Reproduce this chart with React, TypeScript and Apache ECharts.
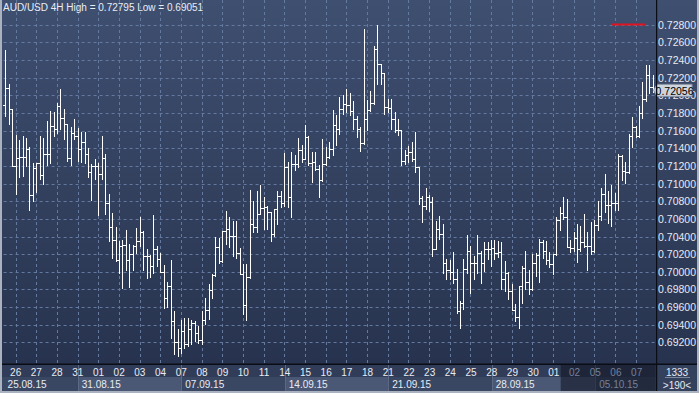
import React, { useEffect, useRef } from "react";
import * as echarts from "echarts";

const symbolName = "AUD/USD 4H";

const opens = [
  0.71895, 0.72088, 0.71842, 0.71198, 0.71285, 0.71304, 0.71304, 0.71387, 0.70872, 0.71179,
  0.71228, 0.71096, 0.7133, 0.7133, 0.71653, 0.71615, 0.71884, 0.71747, 0.71679, 0.71285,
  0.71577, 0.71539, 0.71387, 0.71475, 0.7133, 0.71133, 0.71198, 0.71198, 0.71111, 0.71285,
  0.70781, 0.70504, 0.70364, 0.70137, 0.70288, 0.703, 0.70129, 0.70205, 0.70288, 0.70345,
  0.70451, 0.70182, 0.70175, 0.70061, 0.70258, 0.70148, 0.69996, 0.69701, 0.69834, 0.69442,
  0.69203, 0.69139, 0.69329, 0.69177, 0.69347, 0.69423, 0.6931, 0.69222, 0.6945, 0.69564,
  0.69791, 0.69961, 0.70276, 0.70124, 0.70466, 0.70484, 0.70409, 0.70409, 0.70212, 0.6998,
  0.6962, 0.69942, 0.70541, 0.70503, 0.70655, 0.70719, 0.70731, 0.70674, 0.70428, 0.70712,
  0.70856, 0.70776, 0.71186, 0.70845, 0.71224, 0.71224, 0.71383, 0.7128, 0.71527, 0.71231,
  0.71242, 0.71167, 0.71045, 0.71224, 0.71299, 0.71394, 0.71659, 0.71621, 0.71849, 0.71906,
  0.71887, 0.71822, 0.71728, 0.71614, 0.71462, 0.71735, 0.71837, 0.71917, 0.72523, 0.7235,
  0.72254, 0.71868, 0.71856, 0.71735, 0.71602, 0.71602, 0.71254, 0.71318, 0.71356, 0.71273,
  0.71186, 0.70833, 0.7075, 0.70844, 0.70788, 0.70257, 0.70484, 0.70428, 0.70105, 0.70022,
  0.69999, 0.69924, 0.69556, 0.69651, 0.7003, 0.70238, 0.70105, 0.70105, 0.70212, 0.70105,
  0.70257, 0.70257, 0.70271, 0.70215, 0.70222, 0.69919, 0.69983, 0.69786, 0.6957, 0.69483,
  0.69836, 0.7004, 0.69881, 0.69805, 0.70105, 0.70196, 0.70343, 0.70241, 0.70135, 0.70089,
  0.70203, 0.70582, 0.70669, 0.7062, 0.70279, 0.70268, 0.70385, 0.7026, 0.70336, 0.70287,
  0.70287, 0.70241, 0.70525, 0.70628, 0.70885, 0.70753, 0.70753, 0.70779, 0.70779, 0.7131,
  0.71143, 0.71128, 0.71537, 0.71636, 0.71541, 0.71795, 0.71954, 0.72231, 0.72091,
];

const highs = [
  0.72517, 0.72126, 0.7185, 0.71547, 0.71493, 0.71535, 0.71512, 0.71414, 0.71228, 0.71228,
  0.71535, 0.71512, 0.71706, 0.71819, 0.71812, 0.7191, 0.7207, 0.71842, 0.71679, 0.71645,
  0.71728, 0.71626, 0.71588, 0.71588, 0.71406, 0.71217, 0.71274, 0.71228, 0.71543, 0.7133,
  0.70887, 0.70663, 0.70504, 0.70345, 0.70356, 0.70478, 0.70311, 0.703, 0.70497, 0.70622,
  0.70466, 0.70262, 0.70193, 0.70641, 0.70288, 0.70212, 0.70076, 0.69887, 0.70136, 0.69556,
  0.69347, 0.6945, 0.69473, 0.6948, 0.6945, 0.69442, 0.69385, 0.69556, 0.69708, 0.69867,
  0.69973, 0.7039, 0.70382, 0.70466, 0.70693, 0.70625, 0.70579, 0.70579, 0.70268, 0.70094,
  0.70087, 0.70932, 0.70807, 0.7092, 0.70985, 0.70845, 0.70745, 0.70674, 0.70712, 0.70913,
  0.7092, 0.71345, 0.71242, 0.71356, 0.71318, 0.71515, 0.71432, 0.71659, 0.7154, 0.71356,
  0.71356, 0.71205, 0.71508, 0.71413, 0.7147, 0.7183, 0.71773, 0.71981, 0.72, 0.72069,
  0.72031, 0.71932, 0.71765, 0.7164, 0.72751, 0.71944, 0.72046, 0.72561, 0.72795, 0.7236,
  0.72254, 0.71963, 0.71963, 0.71811, 0.71728, 0.7161, 0.71375, 0.71424, 0.7147, 0.71584,
  0.71186, 0.70863, 0.70951, 0.70871, 0.70844, 0.70579, 0.70636, 0.70541, 0.70143, 0.70132,
  0.70219, 0.7003, 0.6967, 0.70143, 0.70416, 0.70295, 0.70181, 0.70416, 0.70238, 0.70333,
  0.70333, 0.70355, 0.70355, 0.70347, 0.70336, 0.70127, 0.69995, 0.69862, 0.69635, 0.69843,
  0.7007, 0.70241, 0.70021, 0.70203, 0.70211, 0.70374, 0.70355, 0.70347, 0.70222, 0.70203,
  0.7062, 0.70734, 0.70847, 0.70821, 0.70362, 0.70449, 0.70544, 0.70514, 0.70658, 0.70449,
  0.70563, 0.70582, 0.70798, 0.70954, 0.71106, 0.70912, 0.7098, 0.70893, 0.7134, 0.7132,
  0.71245, 0.7156, 0.71757, 0.71651, 0.71878, 0.72155, 0.72344, 0.72344, 0.72231,
];

const lows = [
  0.71766, 0.71679, 0.71198, 0.70883, 0.71073, 0.71084, 0.71198, 0.70698, 0.708, 0.70902,
  0.71046, 0.70993, 0.71205, 0.71228, 0.71539, 0.71577, 0.71615, 0.71501, 0.71255, 0.71205,
  0.71501, 0.71255, 0.71247, 0.71228, 0.71077, 0.70819, 0.71046, 0.70641, 0.71046, 0.70656,
  0.70353, 0.70156, 0.70118, 0.69985, 0.69822, 0.70023, 0.69833, 0.70015, 0.70212, 0.70288,
  0.70015, 0.69928, 0.6994, 0.69985, 0.70061, 0.69996, 0.69587, 0.69606, 0.69253, 0.69071,
  0.69051, 0.69082, 0.69139, 0.69158, 0.69177, 0.69215, 0.69196, 0.69177, 0.69404, 0.69461,
  0.69708, 0.69954, 0.70105, 0.7011, 0.70314, 0.70276, 0.70181, 0.70162, 0.69973, 0.69518,
  0.6945, 0.69935, 0.70447, 0.70447, 0.70655, 0.70484, 0.70484, 0.70352, 0.70409, 0.70541,
  0.70731, 0.7075, 0.70738, 0.70617, 0.71148, 0.71186, 0.71242, 0.71273, 0.71205, 0.71015,
  0.71148, 0.70845, 0.71034, 0.71215, 0.71292, 0.71318, 0.71432, 0.71565, 0.71792, 0.71811,
  0.71773, 0.71621, 0.71527, 0.71368, 0.71451, 0.71602, 0.7182, 0.719, 0.72133, 0.72133,
  0.71792, 0.71811, 0.71621, 0.71584, 0.71546, 0.71212, 0.71223, 0.71242, 0.71261, 0.71129,
  0.70769, 0.7056, 0.70712, 0.70693, 0.70181, 0.70257, 0.70371, 0.69992, 0.69916, 0.69916,
  0.69878, 0.69537, 0.69366, 0.69582, 0.69992, 0.69764, 0.69916, 0.69992, 0.69878, 0.70011,
  0.70143, 0.7007, 0.70146, 0.70165, 0.69805, 0.69786, 0.69691, 0.69566, 0.69445, 0.69362,
  0.69642, 0.69805, 0.69748, 0.69794, 0.69957, 0.69881, 0.70158, 0.70089, 0.70052, 0.69976,
  0.70196, 0.70468, 0.70601, 0.70279, 0.70222, 0.70241, 0.70108, 0.70241, 0.70279, 0.70021,
  0.70203, 0.7023, 0.70468, 0.70582, 0.70677, 0.70552, 0.70514, 0.70703, 0.70703, 0.71037,
  0.71007, 0.7112, 0.71416, 0.71522, 0.7153, 0.71738, 0.7194, 0.72022, 0.72041,
];

const closes = [
  0.72088, 0.71842, 0.71198, 0.71285, 0.71304, 0.71304, 0.71387, 0.70872, 0.71179, 0.71228,
  0.71096, 0.7133, 0.7133, 0.71653, 0.71615, 0.71884, 0.71747, 0.71679, 0.71285, 0.71577,
  0.71539, 0.71387, 0.71475, 0.7133, 0.71133, 0.71198, 0.71198, 0.71111, 0.71285, 0.70781,
  0.70504, 0.70364, 0.70137, 0.70288, 0.703, 0.70129, 0.70205, 0.70288, 0.70345, 0.70451,
  0.70182, 0.70175, 0.70061, 0.70258, 0.70148, 0.69996, 0.69701, 0.69834, 0.69442, 0.69203,
  0.69139, 0.69329, 0.69177, 0.69347, 0.69423, 0.6931, 0.69222, 0.6945, 0.69564, 0.69791,
  0.69961, 0.70276, 0.70124, 0.70466, 0.70484, 0.70409, 0.70409, 0.70212, 0.6998, 0.6962,
  0.69942, 0.70541, 0.70503, 0.70655, 0.70719, 0.70731, 0.70674, 0.70428, 0.70712, 0.70856,
  0.70776, 0.71186, 0.70845, 0.71224, 0.71224, 0.71383, 0.7128, 0.71527, 0.71231, 0.71242,
  0.71167, 0.71045, 0.71224, 0.71299, 0.71394, 0.71659, 0.71621, 0.71849, 0.71906, 0.71887,
  0.71822, 0.71728, 0.71614, 0.71462, 0.71735, 0.71837, 0.71917, 0.72523, 0.7235, 0.72254,
  0.71868, 0.71856, 0.71735, 0.71602, 0.71602, 0.71254, 0.71318, 0.71356, 0.71273, 0.71186,
  0.70833, 0.7075, 0.70844, 0.70788, 0.70257, 0.70484, 0.70428, 0.70105, 0.70022, 0.69999,
  0.69924, 0.69556, 0.69651, 0.7003, 0.70238, 0.70105, 0.70105, 0.70212, 0.70105, 0.70257,
  0.70257, 0.70271, 0.70215, 0.70222, 0.69919, 0.69983, 0.69786, 0.6957, 0.69483, 0.69836,
  0.7004, 0.69881, 0.69805, 0.70105, 0.70196, 0.70343, 0.70241, 0.70135, 0.70089, 0.70203,
  0.70582, 0.70669, 0.7062, 0.70279, 0.70268, 0.70385, 0.7026, 0.70336, 0.70287, 0.70287,
  0.70241, 0.70525, 0.70628, 0.70885, 0.70753, 0.70753, 0.70779, 0.70779, 0.7131, 0.71143,
  0.71128, 0.71537, 0.71636, 0.71541, 0.71795, 0.71954, 0.72231, 0.72091, 0.72056,
];

const dayLabels = [
  "26", "27", "28", "31", "01", "02", "03", "04", "07", "08", "09", "10", "11", "14", "15", "16",
  "17", "18", "21", "22", "23", "24", "25", "28", "29", "30", "01", "02", "05", "06", "07",
];
const firstDayBar = 3;
const barsPerDay = 6;

const weekLabels = ["25.08.15", "31.08.15", "07.09.15", "14.09.15", "21.09.15", "28.09.15", "05.10.15"];
const weekStartBars = [0, 21, 51, 81, 111, 141, 171];

const yTicks = [
  0.692, 0.694, 0.696, 0.698, 0.7, 0.702, 0.704, 0.706, 0.708, 0.71,
  0.712, 0.714, 0.716, 0.718, 0.72, 0.722, 0.724, 0.726, 0.728,
];

const dimFromBar = 161;
const cornerTexts = ["1333", ">190<"];

const FONT = "'Liberation Sans', Arial, sans-serif";
const NARROW = "'Liberation Sans Narrow', 'Arial Narrow', 'Liberation Sans', Arial, sans-serif";

export default function App() {
  const ref = useRef<HTMLDivElement>(null);

  useEffect(() => {
    if (!ref.current) return;
    const chart = echarts.init(ref.current, null, { renderer: "svg" });

    const cats = opens.map((_, i) => String(i));
    const ohlc = opens.map((o, i) => [i, o, highs[i], lows[i], closes[i]]);
    const lastIdx = closes.length - 1;
    const last = closes[lastIdx];
    const hi = Math.max(...highs);
    const lo = Math.min(...lows);
    const dayBars = dayLabels.map((_, i) => firstDayBar + i * barsPerDay);
    const gridData = [
      ...yTicks.map((v) => [0, v]),
      ...dayBars.map((b) => [1, b]),
    ];

    const option: any = {
      animation: false,
      backgroundColor: "#2c3850",
      title: {
        text: `${symbolName} High = ${hi.toFixed(5)} Low = ${lo.toFixed(5)}`,
        left: 3,
        top: 2,
        padding: 0,
        textStyle: { color: "#e9edf5", fontSize: 10, fontWeight: "normal", fontFamily: FONT },
      },
      grid: [
        { left: 3.6, right: 43.4, top: 7.05, bottom: 15.3 },
        { left: 3.6, right: 43.4, top: 365, height: 26 },
      ],
      xAxis: [
        { type: "category", data: cats, gridIndex: 0, boundaryGap: true, show: false },
        { type: "category", data: cats, gridIndex: 1, boundaryGap: true, show: false },
      ],
      yAxis: [
        {
          type: "value",
          gridIndex: 0,
          position: "right",
          min: 0.688,
          max: 0.73,
          interval: 0.002,
          axisLine: { show: false },
          axisTick: { show: false },
          splitLine: { show: false },
          axisLabel: {
            margin: 3.5,
            color: "#e6eaf3",
            fontSize: 10.5,
            fontFamily: NARROW,
            formatter: (v: number) =>
              v > yTicks[0] - 1e-6 && v < yTicks[yTicks.length - 1] + 1e-6 ? v.toFixed(5) : "",
          },
        },
        { type: "value", gridIndex: 1, min: 0, max: 1, show: false },
      ],
      graphic: [
        {
          type: "rect",
          z: -10,
          silent: true,
          shape: { x: 0, y: 0, width: 699, height: 365 },
          style: {
            fill: new echarts.graphic.LinearGradient(0, 0, 0, 1, [
              { offset: 0, color: "#3f4f70" },
              { offset: 1, color: "#27334e" },
            ]),
          },
        },
        {
          type: "line",
          z: 30,
          silent: true,
          shape: { x1: 612, y1: 24.5, x2: 646, y2: 24.5 },
          style: { stroke: "#e0141e", lineWidth: 2 },
        },
        { type: "rect", z: 40, silent: true, shape: { x: 0, y: 363.5, width: 699, height: 1.5 }, style: { fill: "#0a0d15" } },
        { type: "rect", z: 40, silent: true, shape: { x: 656, y: 0, width: 1.2, height: 391 }, style: { fill: "#0a0d15" } },
        { type: "rect", z: 30, silent: true, shape: { x: 657.2, y: 365, width: 40, height: 26 }, style: { fill: "#34415d" } },
        {
          type: "line",
          z: 31,
          silent: true,
          shape: { x1: 665, y1: 377.5, x2: 690, y2: 377.5 },
          style: { stroke: "#7e889c", lineWidth: 1 },
        },
        {
          type: "text",
          z: 31,
          silent: true,
          x: 677,
          y: 372,
          style: { text: cornerTexts[0], fill: "#e6eaf3", font: `10px ${FONT}`, align: "center", verticalAlign: "middle" },
        },
        {
          type: "text",
          z: 31,
          silent: true,
          x: 677,
          y: 385,
          style: { text: cornerTexts[1], fill: "#e6eaf3", font: `10px ${FONT}`, align: "center", verticalAlign: "middle" },
        },
        { type: "rect", z: 50, silent: true, shape: { x: 0, y: 0, width: 2, height: 393 }, style: { fill: "#aab1bf" } },
        { type: "rect", z: 50, silent: true, shape: { x: 0, y: 391, width: 699, height: 2 }, style: { fill: "#aab1bf" } },
        { type: "rect", z: 50, silent: true, shape: { x: 697, y: 0, width: 2, height: 393 }, style: { fill: "#aab1bf" } },
      ],
      series: [
        {
          type: "custom",
          name: "grid",
          xAxisIndex: 0,
          yAxisIndex: 0,
          z: 1,
          silent: true,
          data: gridData,
          renderItem: (params: any, api: any) => {
            const cs = params.coordSys;
            const kind = api.value(0);
            const v = api.value(1);
            if (kind === 0) {
              const y = Math.round(api.coord([0, v])[1]) + 0.5;
              return {
                type: "line",
                shape: { x1: cs.x, y1: y, x2: cs.x + cs.width, y2: y },
                style: { stroke: "#6479a0", lineWidth: 1, lineDash: [3, 3] },
              };
            }
            const x = Math.round(api.coord([v, yTicks[0]])[0]) + 0.5;
            return {
              type: "line",
              shape: { x1: x, y1: 0, x2: x, y2: 364 },
              style: { stroke: "#6479a0", lineWidth: 1, lineDash: [3, 3] },
            };
          },
        },
        {
          type: "custom",
          name: "AUDUSD",
          xAxisIndex: 0,
          yAxisIndex: 0,
          z: 5,
          data: ohlc,
          encode: { x: 0, y: [1, 2, 3, 4] },
          renderItem: (params: any, api: any) => {
            const i = api.value(0);
            const po = api.coord([i, api.value(1)]);
            const ph = api.coord([i, api.value(2)]);
            const pl = api.coord([i, api.value(3)]);
            const pc = api.coord([i, api.value(4)]);
            const x = Math.round(po[0]) + 0.5;
            const yo = Math.round(po[1]) + 0.5;
            const yc = Math.round(pc[1]) + 0.5;
            const yh = Math.round(ph[1]);
            const yl = Math.round(pl[1]) + 1;
            const st = { stroke: "#ffffff", lineWidth: 1 };
            return {
              type: "group",
              children: [
                { type: "line", shape: { x1: x, y1: yh, x2: x, y2: yl }, style: st },
                { type: "line", shape: { x1: x - 2.5, y1: yo, x2: x, y2: yo }, style: st },
                { type: "line", shape: { x1: x, y1: yc, x2: x + 2.5, y2: yc }, style: st },
              ],
            };
          },
        },
        {
          type: "custom",
          name: "lastPrice",
          xAxisIndex: 0,
          yAxisIndex: 0,
          z: 30,
          silent: true,
          data: [[lastIdx, last]],
          renderItem: (params: any, api: any) => {
            const cs = params.coordSys;
            const y = api.coord([api.value(0), api.value(1)])[1];
            const x0 = cs.x + cs.width + 2.5;
            const w = 35;
            const h = 12;
            return {
              type: "group",
              children: [
                {
                  type: "polygon",
                  shape: {
                    points: [
                      [x0 - 3.5, y],
                      [x0, y - h / 2],
                      [x0 + w, y - h / 2],
                      [x0 + w, y + h / 2],
                      [x0, y + h / 2],
                    ],
                  },
                  style: { fill: "#cfd4dc", stroke: "#8a93a5", lineWidth: 1 },
                },
                {
                  type: "text",
                  x: x0 + w / 2,
                  y: y + 0.5,
                  style: {
                    text: Number(api.value(1)).toFixed(5),
                    fill: "#000000",
                    font: `10.5px ${NARROW}`,
                    align: "center",
                    verticalAlign: "middle",
                  },
                },
              ],
            };
          },
        },
        {
          type: "custom",
          name: "weeks",
          xAxisIndex: 1,
          yAxisIndex: 1,
          z: 20,
          silent: true,
          data: weekStartBars.map((s, k) => [s, k]),
          renderItem: (params: any, api: any) => {
            const cs = params.coordSys;
            const k = params.dataIndex;
            const s = api.value(0);
            const x0 = k === 0 ? cs.x - 2 : api.coord([s, 0])[0];
            const x1 =
              k === weekStartBars.length - 1 ? cs.x + cs.width : api.coord([weekStartBars[k + 1], 0])[0];
            const children: any[] = [
              { type: "rect", shape: { x: x0, y: cs.y, width: x1 - x0, height: cs.height }, style: { fill: "#313d58" } },
              {
                type: "rect",
                shape: { x: x0, y: cs.y + 12, width: x1 - x0, height: cs.height - 12 },
                style: { fill: k % 2 ? "#4b5875" : "#3a4763" },
              },
            ];
            if (k > 0) {
              const xs = Math.round(x0) + 0.5;
              children.push({
                type: "line",
                shape: { x1: xs, y1: cs.y, x2: xs, y2: cs.y + cs.height },
                style: { stroke: "#5c6985", lineWidth: 1 },
              });
            }
            return { type: "group", children };
          },
        },
        {
          type: "custom",
          name: "dim",
          xAxisIndex: 1,
          yAxisIndex: 1,
          z: 21,
          silent: true,
          data: [[dimFromBar, 0]],
          renderItem: (params: any, api: any) => {
            const cs = params.coordSys;
            const x0 = api.coord([api.value(0), 0])[0];
            return {
              type: "rect",
              shape: { x: x0, y: cs.y, width: cs.x + cs.width - x0, height: cs.height },
              style: { fill: "rgba(14,19,32,0.55)" },
            };
          },
        },
        {
          type: "custom",
          name: "days",
          xAxisIndex: 1,
          yAxisIndex: 1,
          z: 22,
          silent: true,
          data: dayBars.map((b) => [b, 0]),
          renderItem: (params: any, api: any) => {
            const cs = params.coordSys;
            const b = api.value(0);
            const x = api.coord([b, 0])[0];
            return {
              type: "text",
              x,
              y: cs.y + 7.5,
              style: {
                text: dayLabels[params.dataIndex],
                fill: b >= dimFromBar ? "#75819a" : "#e8ecf4",
                font: `10px ${FONT}`,
                align: "center",
                verticalAlign: "middle",
              },
            };
          },
        },
        {
          type: "custom",
          name: "weekLabels",
          xAxisIndex: 1,
          yAxisIndex: 1,
          z: 22,
          silent: true,
          data: weekStartBars.map((s) => [s, 0]),
          renderItem: (params: any, api: any) => {
            const cs = params.coordSys;
            const k = params.dataIndex;
            const s = api.value(0);
            const x0 = k === 0 ? cs.x : api.coord([s, 0])[0];
            return {
              type: "text",
              x: x0 + 4,
              y: cs.y + 19,
              style: {
                text: weekLabels[k],
                fill: s >= dimFromBar ? "#75819a" : "#e8ecf4",
                font: `10px ${FONT}`,
                align: "left",
                verticalAlign: "middle",
              },
            };
          },
        },
      ],
    };

    chart.setOption(option);
    return () => chart.dispose();
  }, []);

  return <div ref={ref} style={{ position: "fixed", left: 0, top: 0, width: 699, height: 393 }} />;
}
